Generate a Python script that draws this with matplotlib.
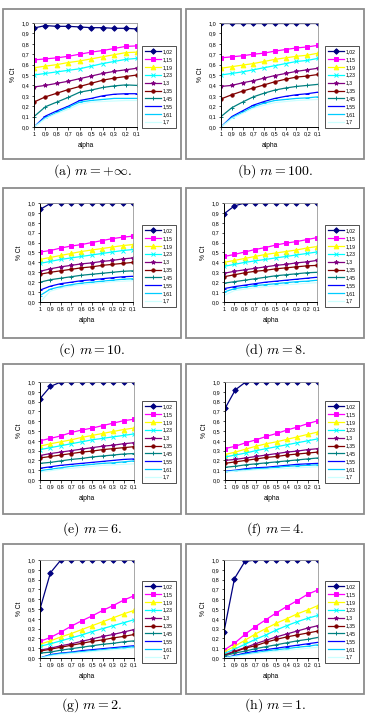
import matplotlib
matplotlib.use("Agg")
import matplotlib.pyplot as plt
from matplotlib.patches import Rectangle

plt.rcParams['mathtext.fontset'] = 'cm'
plt.rcParams['font.family'] = ['Liberation Sans', 'DejaVu Sans']

# data
alpha_labels = ["1", "0,9", "0,8", "0,7", "0,6", "0,5", "0,4", "0,3", "0,2", "0,1"]
series_labels = ["1,02", "1,15", "1,19", "1,23", "1,3", "1,35", "1,45", "1,55", "1,61", "1,7"]
captions = [r"$\mathrm{(a)}\ m = +\infty.$", r"$\mathrm{(b)}\ m = 100.$",
            r"$\mathrm{(c)}\ m = 10.$", r"$\mathrm{(d)}\ m = 8.$",
            r"$\mathrm{(e)}\ m = 6.$", r"$\mathrm{(f)}\ m = 4.$",
            r"$\mathrm{(g)}\ m = 2.$", r"$\mathrm{(h)}\ m = 1.$"]

m_inf = [
    [0.952, 0.975, 0.968, 0.968, 0.962, 0.955, 0.955, 0.949, 0.949, 0.943],
    [0.645, 0.655, 0.665, 0.68, 0.70, 0.72, 0.735, 0.755, 0.775, 0.78],
    [0.57, 0.585, 0.60, 0.62, 0.635, 0.655, 0.675, 0.695, 0.715, 0.72],
    [0.50, 0.515, 0.53, 0.545, 0.56, 0.585, 0.61, 0.63, 0.65, 0.66],
    [0.385, 0.40, 0.42, 0.44, 0.465, 0.49, 0.515, 0.535, 0.55, 0.565],
    [0.24, 0.29, 0.325, 0.36, 0.39, 0.42, 0.45, 0.47, 0.485, 0.50],
    [0.10, 0.195, 0.24, 0.285, 0.335, 0.355, 0.38, 0.395, 0.405, 0.40],
    [0.0, 0.105, 0.155, 0.20, 0.255, 0.275, 0.30, 0.315, 0.32, 0.32],
    [0.0, 0.09, 0.14, 0.19, 0.24, 0.255, 0.265, 0.275, 0.275, 0.275],
    [0.0, 0.08, 0.13, 0.17, 0.22, 0.24, 0.245, 0.25, 0.255, 0.255],
]
m_100 = [
    [1.0, 1.0, 1.0, 1.0, 1.0, 1.0, 1.0, 1.0, 1.0, 1.0],
    [0.665, 0.675, 0.685, 0.70, 0.71, 0.73, 0.745, 0.76, 0.77, 0.785],
    [0.565, 0.58, 0.595, 0.61, 0.63, 0.65, 0.665, 0.68, 0.69, 0.71],
    [0.50, 0.515, 0.53, 0.55, 0.57, 0.59, 0.61, 0.63, 0.64, 0.66],
    [0.39, 0.40, 0.425, 0.445, 0.47, 0.495, 0.515, 0.535, 0.55, 0.565],
    [0.27, 0.31, 0.345, 0.375, 0.405, 0.435, 0.46, 0.48, 0.49, 0.505],
    [0.10, 0.185, 0.24, 0.29, 0.325, 0.355, 0.375, 0.39, 0.40, 0.41],
    [0.0, 0.10, 0.155, 0.21, 0.245, 0.275, 0.295, 0.31, 0.32, 0.335],
    [0.0, 0.09, 0.14, 0.195, 0.23, 0.255, 0.265, 0.275, 0.28, 0.29],
    [0.0, 0.08, 0.13, 0.18, 0.21, 0.235, 0.245, 0.255, 0.26, 0.265],
]
m_10 = [
    [0.935, 0.995, 1.0, 1.0, 1.0, 1.0, 1.0, 1.0, 1.0, 1.0],
    [0.505, 0.52, 0.545, 0.565, 0.58, 0.60, 0.62, 0.64, 0.655, 0.665],
    [0.43, 0.45, 0.47, 0.49, 0.51, 0.525, 0.54, 0.555, 0.57, 0.58],
    [0.39, 0.41, 0.43, 0.445, 0.46, 0.475, 0.49, 0.505, 0.52, 0.53],
    [0.31, 0.335, 0.355, 0.37, 0.385, 0.395, 0.41, 0.42, 0.435, 0.445],
    [0.28, 0.30, 0.315, 0.33, 0.345, 0.355, 0.37, 0.38, 0.39, 0.40],
    [0.20, 0.225, 0.24, 0.255, 0.27, 0.28, 0.29, 0.30, 0.31, 0.315],
    [0.12, 0.16, 0.185, 0.20, 0.215, 0.225, 0.235, 0.245, 0.255, 0.26],
    [0.065, 0.13, 0.155, 0.175, 0.19, 0.20, 0.21, 0.22, 0.23, 0.235],
    [0.0, 0.11, 0.14, 0.16, 0.175, 0.185, 0.195, 0.205, 0.21, 0.215],
]
m_8 = [
    [0.89, 0.97, 1.0, 1.0, 1.0, 1.0, 1.0, 1.0, 1.0, 1.0],
    [0.46, 0.48, 0.505, 0.53, 0.55, 0.575, 0.595, 0.61, 0.63, 0.65],
    [0.40, 0.42, 0.44, 0.46, 0.48, 0.495, 0.51, 0.525, 0.545, 0.56],
    [0.36, 0.38, 0.40, 0.415, 0.43, 0.445, 0.46, 0.475, 0.49, 0.505],
    [0.29, 0.31, 0.325, 0.34, 0.355, 0.37, 0.38, 0.395, 0.405, 0.42],
    [0.255, 0.275, 0.295, 0.31, 0.32, 0.335, 0.345, 0.355, 0.365, 0.37],
    [0.19, 0.205, 0.22, 0.235, 0.25, 0.265, 0.275, 0.285, 0.295, 0.30],
    [0.135, 0.155, 0.17, 0.185, 0.20, 0.21, 0.22, 0.23, 0.24, 0.25],
    [0.10, 0.135, 0.15, 0.165, 0.175, 0.185, 0.195, 0.205, 0.21, 0.22],
    [0.065, 0.115, 0.13, 0.145, 0.155, 0.165, 0.175, 0.18, 0.19, 0.195],
]
m_6 = [
    [0.83, 0.955, 1.0, 1.0, 1.0, 1.0, 1.0, 1.0, 1.0, 1.0],
    [0.40, 0.425, 0.45, 0.485, 0.51, 0.53, 0.555, 0.58, 0.605, 0.62],
    [0.345, 0.37, 0.39, 0.41, 0.435, 0.455, 0.475, 0.495, 0.515, 0.53],
    [0.31, 0.33, 0.35, 0.37, 0.39, 0.41, 0.425, 0.44, 0.455, 0.47],
    [0.25, 0.27, 0.285, 0.30, 0.315, 0.33, 0.345, 0.355, 0.37, 0.38],
    [0.225, 0.24, 0.255, 0.27, 0.285, 0.295, 0.31, 0.32, 0.33, 0.34],
    [0.17, 0.18, 0.195, 0.21, 0.22, 0.235, 0.245, 0.255, 0.265, 0.27],
    [0.12, 0.135, 0.15, 0.16, 0.17, 0.18, 0.19, 0.20, 0.21, 0.215],
    [0.095, 0.11, 0.125, 0.14, 0.15, 0.16, 0.17, 0.175, 0.185, 0.195],
    [0.08, 0.095, 0.11, 0.12, 0.13, 0.14, 0.15, 0.155, 0.16, 0.165],
]
m_4 = [
    [0.73, 0.92, 1.0, 1.0, 1.0, 1.0, 1.0, 1.0, 1.0, 1.0],
    [0.32, 0.345, 0.38, 0.41, 0.445, 0.475, 0.51, 0.54, 0.575, 0.605],
    [0.26, 0.285, 0.315, 0.345, 0.37, 0.39, 0.415, 0.44, 0.465, 0.49],
    [0.235, 0.255, 0.275, 0.30, 0.32, 0.34, 0.36, 0.38, 0.40, 0.42],
    [0.20, 0.21, 0.225, 0.24, 0.255, 0.27, 0.285, 0.295, 0.31, 0.32],
    [0.17, 0.185, 0.20, 0.215, 0.23, 0.24, 0.255, 0.265, 0.275, 0.285],
    [0.13, 0.14, 0.155, 0.165, 0.175, 0.185, 0.195, 0.205, 0.215, 0.225],
    [0.09, 0.10, 0.115, 0.125, 0.13, 0.14, 0.15, 0.16, 0.165, 0.17],
    [0.085, 0.095, 0.105, 0.115, 0.12, 0.13, 0.14, 0.145, 0.15, 0.155],
    [0.08, 0.09, 0.095, 0.105, 0.11, 0.115, 0.12, 0.125, 0.13, 0.135],
]
m_2 = [
    [0.50, 0.87, 1.0, 1.0, 1.0, 1.0, 1.0, 1.0, 1.0, 1.0],
    [0.17, 0.21, 0.265, 0.325, 0.38, 0.43, 0.485, 0.535, 0.59, 0.635],
    [0.14, 0.175, 0.215, 0.25, 0.29, 0.33, 0.37, 0.41, 0.45, 0.485],
    [0.12, 0.145, 0.175, 0.205, 0.235, 0.27, 0.30, 0.33, 0.36, 0.39],
    [0.08, 0.10, 0.125, 0.145, 0.17, 0.195, 0.22, 0.24, 0.265, 0.29],
    [0.07, 0.09, 0.11, 0.13, 0.15, 0.17, 0.185, 0.205, 0.22, 0.24],
    [0.05, 0.06, 0.08, 0.095, 0.11, 0.125, 0.14, 0.15, 0.165, 0.175],
    [0.0, 0.035, 0.05, 0.06, 0.075, 0.085, 0.095, 0.105, 0.115, 0.125],
    [0.0, 0.03, 0.045, 0.055, 0.065, 0.075, 0.085, 0.095, 0.105, 0.115],
    [0.0, 0.02, 0.035, 0.045, 0.055, 0.065, 0.075, 0.085, 0.09, 0.10],
]
m_1 = [
    [0.27, 0.81, 0.985, 1.0, 1.0, 1.0, 1.0, 1.0, 1.0, 1.0],
    [0.08, 0.15, 0.24, 0.32, 0.39, 0.46, 0.525, 0.585, 0.65, 0.695],
    [0.06, 0.12, 0.18, 0.245, 0.30, 0.355, 0.40, 0.45, 0.49, 0.535],
    [0.045, 0.09, 0.14, 0.19, 0.235, 0.285, 0.33, 0.37, 0.405, 0.435],
    [0.03, 0.07, 0.105, 0.145, 0.18, 0.215, 0.245, 0.275, 0.305, 0.33],
    [0.025, 0.06, 0.10, 0.125, 0.16, 0.19, 0.215, 0.235, 0.255, 0.275],
    [0.02, 0.05, 0.07, 0.095, 0.115, 0.135, 0.155, 0.175, 0.19, 0.21],
    [0.0, 0.025, 0.05, 0.07, 0.085, 0.10, 0.115, 0.13, 0.145, 0.16],
    [0.0, 0.02, 0.04, 0.055, 0.07, 0.085, 0.095, 0.11, 0.12, 0.135],
    [0.0, 0.015, 0.03, 0.045, 0.06, 0.07, 0.08, 0.09, 0.10, 0.11],
]
panels = [m_inf, m_100, m_10, m_8, m_6, m_4, m_2, m_1]

# excel-ish series styles
colors = ['#000080', '#FF00FF', '#FFFF00', '#00FFFF', '#800080',
          '#800000', '#008080', '#0000FF', '#00CCFF', '#CCFFFF']
markers = ['D', 's', '^', 'x', '*', 'o', '+', '_', '_', '']
msizes = [2.8, 3.2, 3.4, 2.6, 3.0, 2.4, 2.8, 2.8, 2.6, 0]

W, H = 366, 715
fig = plt.figure(figsize=(W / 100, H / 100), dpi=100)


def rect(x, y, w, h):
    # pixel box (top-left origin) -> figure fraction
    return [x / W, 1 - (y + h) / H, w / W, h / H]


box_x = [3, 186]
box_y = [9, 188, 364, 544]
box_w, box_h = 178, 150
plot_x = [[34, 40, 40, 40], [221, 224, 225, 224]]
plot_w = [[103, 93, 94, 94], [97, 93, 93, 94]]
plot_y = [23, 203, 382, 560]
plot_h = [104, 99, 98, 98]
cap_y = [171, 350, 529, 705]

for i, data in enumerate(panels):
    row, col = i // 2, i % 2
    bx, by = box_x[col], box_y[row]

    fig.patches.append(Rectangle((bx / W, 1 - (by + box_h) / H), box_w / W, box_h / H,
                                 transform=fig.transFigure, fill=False,
                                 edgecolor='#8c8c8c', linewidth=1.3))

    ax = fig.add_axes(rect(plot_x[col][row], plot_y[row], plot_w[col][row], plot_h[row]))
    xs = range(len(alpha_labels))
    for k, ys in enumerate(data):
        ax.plot(xs, ys, color=colors[k], marker=markers[k] or None,
                markersize=msizes[k], linewidth=0.9, markeredgewidth=0.7,
                label=series_labels[k])

    ax.set_xlim(0, 9)
    ax.set_ylim(0, 1)
    ax.set_xticks(list(xs))
    ax.set_xticklabels(alpha_labels)
    ax.set_yticks([j / 10 for j in range(11)])
    ax.set_yticklabels([f"{j / 10:.1f}".replace('.', ',') for j in range(11)])
    ax.tick_params(labelsize=4.0, length=1.8, width=0.5, pad=1.5, direction='out')
    for s in ['left', 'bottom']:
        ax.spines[s].set_color('black')
        ax.spines[s].set_linewidth(0.7)
    for s in ['top', 'right']:
        ax.spines[s].set_color('#999999')
        ax.spines[s].set_linewidth(0.6)
    ax.set_xlabel("alpha", fontsize=4.8, labelpad=4)
    ax.set_ylabel("% Ct", fontsize=4.8, labelpad=3)

    leg = ax.legend(loc='center left',
                    bbox_to_anchor=((bx + 139) / W, 1 - (by + 78) / H),
                    bbox_transform=fig.transFigure, fontsize=3.7, frameon=True,
                    fancybox=False, edgecolor='black', handlelength=3.0,
                    handletextpad=0.5, labelspacing=0.55, borderpad=0.6,
                    borderaxespad=0)
    leg.get_frame().set_linewidth(0.6)

    fig.text((bx + box_w / 2) / W, 1 - cap_y[row] / H, captions[i],
             ha='center', va='center', fontsize=10)

fig.savefig("out.png", dpi=100)
